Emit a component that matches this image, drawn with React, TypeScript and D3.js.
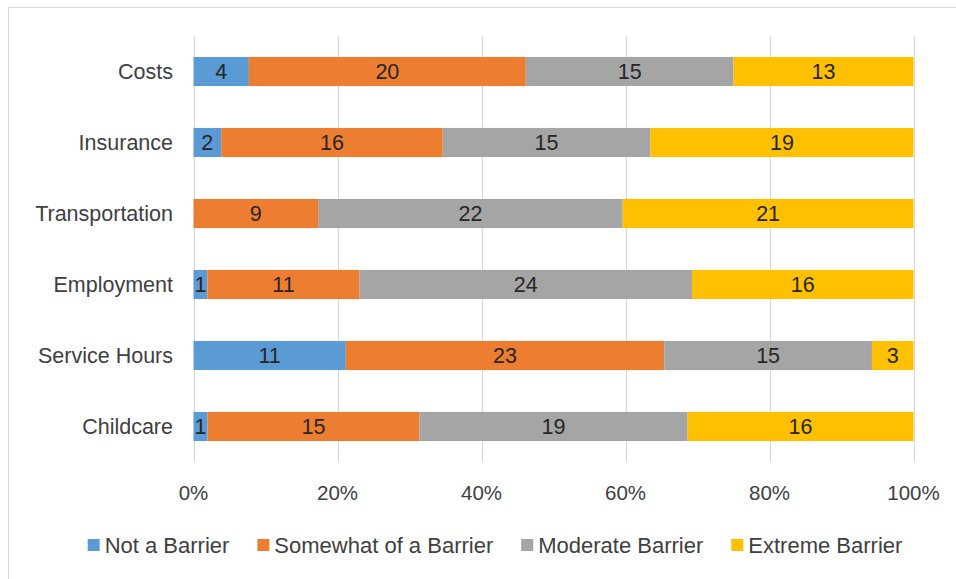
import React, { useEffect, useRef } from "react";
import * as d3 from "d3";

// Barrier ratings per category (respondent counts), shown as 100% stacked bars
const categories = ["Costs", "Insurance", "Transportation", "Employment", "Service Hours", "Childcare"];
const seriesNames = ["Not a Barrier", "Somewhat of a Barrier", "Moderate Barrier", "Extreme Barrier"];
const notABarrier = [4, 2, 0, 1, 11, 1];
const somewhat = [20, 16, 9, 11, 23, 15];
const moderate = [15, 15, 22, 24, 15, 19];
const extreme = [13, 19, 21, 16, 3, 16];
const tickValues = [0, 0.2, 0.4, 0.6, 0.8, 1];
const seriesColors = ["#5B9BD5", "#ED7D31", "#A5A5A5", "#FFC000"];

const W = 956;
const H = 579;
const FONT = "'Liberation Sans', Arial, sans-serif";

export default function App() {
  const ref = useRef<SVGSVGElement | null>(null);

  useEffect(() => {
    const svg = d3.select(ref.current);
    svg.selectAll("*").remove();

    const plot = { left: 193.5, right: 913.5, top: 36, bottom: 462 };

    const x = d3.scaleLinear().domain([0, 1]).range([plot.left, plot.right]);
    const y = d3
      .scaleBand<string>()
      .domain(categories)
      .range([plot.top, plot.bottom])
      .paddingInner(0.59)
      .paddingOuter(0.295);

    // chart-area frame
    svg
      .append("rect")
      .attr("x", 8.5)
      .attr("y", 7.5)
      .attr("width", 1200)
      .attr("height", 1200)
      .attr("fill", "#fff")
      .attr("stroke", "#d9d9d9")
      .attr("stroke-width", 1);

    // vertical gridlines
    svg
      .append("g")
      .selectAll("line")
      .data(tickValues)
      .join("line")
      .attr("x1", (d) => Math.round(x(d)) + 0.5)
      .attr("x2", (d) => Math.round(x(d)) + 0.5)
      .attr("y1", plot.top)
      .attr("y2", plot.bottom)
      .attr("stroke", "#d9d9d9")
      .attr("stroke-width", 1.2);

    // tick labels
    svg
      .append("g")
      .selectAll("text")
      .data(tickValues)
      .join("text")
      .attr("x", (d) => x(d))
      .attr("y", 500)
      .attr("text-anchor", "middle")
      .attr("font-family", FONT)
      .attr("font-size", 20.5)
      .attr("fill", "#404040")
      .text((d) => d3.format(".0%")(d));

    // category labels
    svg
      .append("g")
      .selectAll("text")
      .data(categories)
      .join("text")
      .attr("x", 173)
      .attr("y", (d) => (y(d) as number) + y.bandwidth() / 2)
      .attr("dy", "0.35em")
      .attr("text-anchor", "end")
      .attr("font-family", FONT)
      .attr("font-size", 21.5)
      .attr("fill", "#404040")
      .text((d) => d);

    // stack the series as shares of each category total
    const rows = categories.map((c, i) => {
      const vals = [notABarrier[i], somewhat[i], moderate[i], extreme[i]];
      const total = d3.sum(vals);
      const row: any = { category: c, total };
      seriesNames.forEach((s, j) => (row[s] = vals[j] / total));
      row.raw = vals;
      return row;
    });
    const stacked = d3.stack<any>().keys(seriesNames)(rows);

    const layers = svg
      .append("g")
      .selectAll("g")
      .data(stacked)
      .join("g")
      .attr("fill", (_d, i) => seriesColors[i]);

    layers
      .selectAll("rect")
      .data((d) => d.map((p) => ({ p, key: d.key })))
      .join("rect")
      .attr("x", (d) => x(d.p[0]))
      .attr("width", (d) => Math.max(0, x(d.p[1]) - x(d.p[0])))
      .attr("y", (d) => y(d.p.data.category) as number)
      .attr("height", y.bandwidth());

    // value labels
    const labels: { cx: number; cy: number; v: number }[] = [];
    stacked.forEach((layer, j) => {
      layer.forEach((p) => {
        const v = p.data.raw[j];
        if (v > 0) {
          labels.push({
            cx: (x(p[0]) + x(p[1])) / 2,
            cy: (y(p.data.category) as number) + y.bandwidth() / 2,
            v,
          });
        }
      });
    });
    svg
      .append("g")
      .selectAll("text")
      .data(labels)
      .join("text")
      .attr("x", (d) => d.cx)
      .attr("y", (d) => d.cy)
      .attr("dy", "0.36em")
      .attr("text-anchor", "middle")
      .attr("font-family", FONT)
      .attr("font-size", 21.5)
      .attr("fill", "#262626")
      .text((d) => d.v);

    // legend, laid out from measured text widths and centred
    const legend = svg.append("g");
    const items = legend
      .selectAll("g")
      .data(seriesNames)
      .join("g");
    items
      .append("rect")
      .attr("width", 12)
      .attr("height", 12)
      .attr("y", -6)
      .attr("fill", (_d, i) => seriesColors[i]);
    items
      .append("text")
      .attr("x", 17)
      .attr("dy", "0.36em")
      .attr("font-family", FONT)
      .attr("font-size", 22)
      .attr("fill", "#404040")
      .text((d) => d);
    const gap = 28;
    let cursor = 0;
    const offsets: number[] = [];
    items.each(function () {
      offsets.push(cursor);
      const t = d3.select(this).select("text").node() as SVGTextElement;
      cursor += 17 + t.getComputedTextLength() + gap;
    });
    const totalW = cursor - gap;
    const startX = 495 - totalW / 2;
    items.attr("transform", (_d, i) => `translate(${startX + offsets[i]},545)`);
  }, []);

  return (
    <svg
      ref={ref}
      width={W}
      height={H}
      viewBox={`0 0 ${W} ${H}`}
      style={{ position: "absolute", left: 0, top: 0, display: "block", background: "#fff" }}
    />
  );
}
